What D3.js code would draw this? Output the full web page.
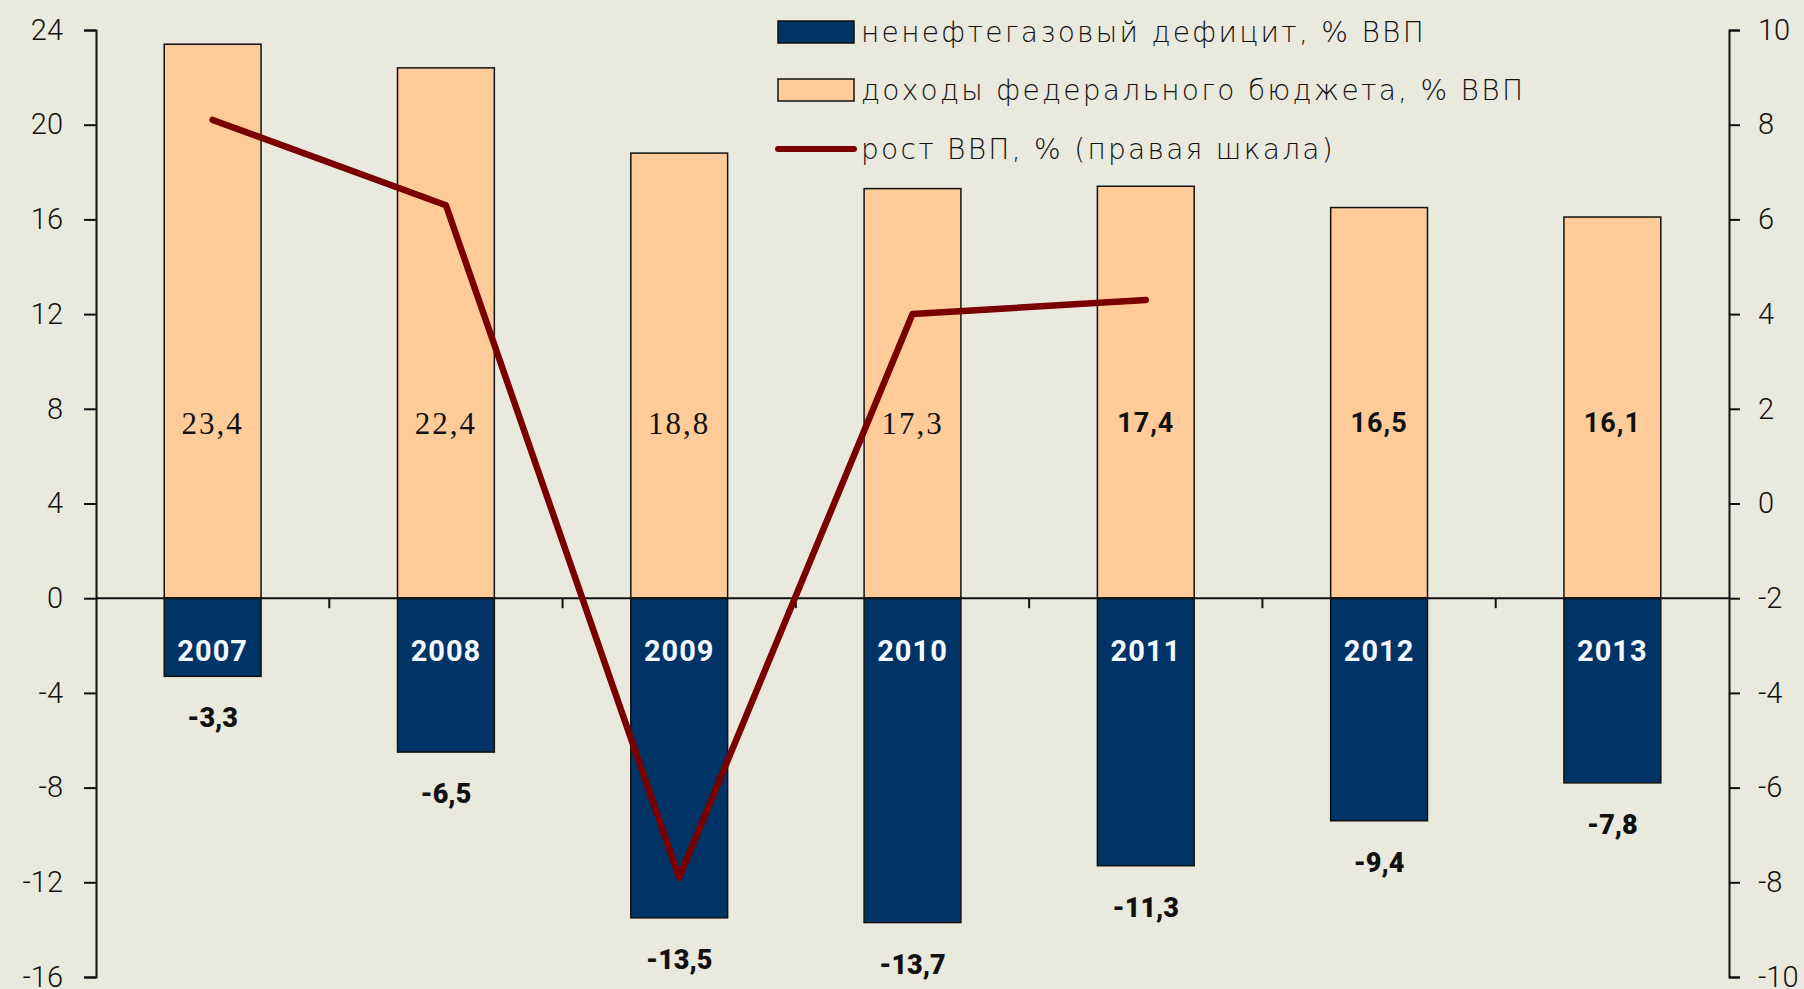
<!DOCTYPE html>
<html>
<head>
<meta charset="utf-8">
<script src="https://cdn.jsdelivr.net/npm/d3@7"></script>
<style>
  html, body { margin: 0; padding: 0; background: #e9e9de; }
  svg { display: block; }
</style>
</head>
<body>
<div id="app"></div>
<script>
// data
var years = ['2007', '2008', '2009', '2010', '2011', '2012', '2013'];
var revenue = [23.4, 22.4, 18.8, 17.3, 17.4, 16.5, 16.1];   // доходы федерального бюджета, % ВВП
var deficit = [-3.3, -6.5, -13.5, -13.7, -11.3, -9.4, -7.8]; // ненефтегазовый дефицит, % ВВП
var gdp = [8.1, 6.3, -7.9, 4.0, 4.3, null, null];           // рост ВВП, % (правая шкала)
var leftTicks = [-16, -12, -8, -4, 0, 4, 8, 12, 16, 20, 24];
var rightTicks = [-10, -8, -6, -4, -2, 0, 2, 4, 6, 8, 10];
var legendLabels = [
  'ненефтегазовый дефицит, % ВВП',
  'доходы федерального бюджета, % ВВП',
  'рост ВВП, % (правая шкала)'
];

var width = 1804, height = 989;
var colRev = '#ffcc99', colDef = '#003366', colLine = '#7a0000';
var fmt = function (v) { return d3.format('.1f')(v).replace('.', ',').replace('−', '-'); };

function go() {
    var left = 96, right = 1729, top = 30, bottom = 977;

    var svg = d3.select('#app').append('svg').attr('width', width).attr('height', height)
        .style('background', '#e9e9de');

    var x = d3.scaleBand().domain(years).range([left, right]).paddingInner(0.585).paddingOuter(0.2925);
    var yL = d3.scaleLinear().domain([-16, 24]).range([bottom, top]);
    var yR = d3.scaleLinear().domain([-10, 10]).range([bottom, top]);
    var bw = x.bandwidth(), step = x.step();

    // bars
    svg.append('g').selectAll('rect').data(revenue).enter().append('rect')
        .attr('x', function (d, i) { return x(years[i]); })
        .attr('y', function (d) { return yL(d); })
        .attr('width', bw)
        .attr('height', function (d) { return yL(0) - yL(d); })
        .attr('fill', colRev).attr('stroke', '#111').attr('stroke-width', 1.5);

    svg.append('g').selectAll('rect').data(deficit).enter().append('rect')
        .attr('x', function (d, i) { return x(years[i]); })
        .attr('y', yL(0))
        .attr('width', bw)
        .attr('height', function (d) { return yL(d) - yL(0); })
        .attr('fill', colDef).attr('stroke', '#111').attr('stroke-width', 1.5);

    // zero line and category ticks
    svg.append('line').attr('x1', left).attr('x2', right).attr('y1', yL(0)).attr('y2', yL(0))
        .attr('stroke', '#111').attr('stroke-width', 2);
    svg.append('g').selectAll('line').data(years.slice(0, -1)).enter().append('line')
        .attr('x1', function (d) { return x(d) + bw / 2 + step / 2; })
        .attr('x2', function (d) { return x(d) + bw / 2 + step / 2; })
        .attr('y1', yL(0)).attr('y2', yL(0) + 10)
        .attr('stroke', '#111').attr('stroke-width', 2);

    // axes
    var axL = svg.append('g').attr('transform', 'translate(' + left + ',0)')
        .call(d3.axisLeft(yL).tickValues(leftTicks).tickSize(12).tickPadding(21).tickFormat(d3.format('d')));
    var axR = svg.append('g').attr('transform', 'translate(' + right + ',0)')
        .call(d3.axisRight(yR).tickValues(rightTicks).tickSize(11).tickPadding(18).tickFormat(d3.format('d')));
    [axL, axR].forEach(function (ax) {
        ax.selectAll('path, line').attr('stroke', '#111').attr('stroke-width', 2);
        ax.selectAll('text').attr('font-family', 'Roboto, sans-serif').attr('font-weight', 300)
            .attr('font-size', 29).attr('fill', '#111')
            .text(function (d) { return String(d).replace('−', '-'); });
    });

    // year labels inside dark bars
    svg.append('g').selectAll('text').data(years).enter().append('text')
        .attr('x', function (d) { return x(d) + bw / 2; })
        .attr('y', yL(0) + 53)
        .attr('dominant-baseline', 'central').attr('text-anchor', 'middle')
        .attr('font-family', 'Roboto, sans-serif').attr('font-weight', 700).attr('font-size', 29)
        .attr('letter-spacing', 1)
        .attr('fill', '#f4f8ff').text(function (d) { return d; });

    // revenue value labels
    svg.append('g').selectAll('text').data(revenue).enter().append('text')
        .attr('x', function (d, i) { return x(years[i]) + bw / 2; })
        .attr('y', yL(7.4))
        .attr('dominant-baseline', 'central').attr('text-anchor', 'middle')
        .attr('font-family', function (d, i) { return i < 4 ? '"Liberation Serif", serif' : 'Roboto, sans-serif'; })
        .attr('font-weight', function (d, i) { return i < 4 ? 400 : 700; })
        .attr('font-size', function (d, i) { return i < 4 ? 31 : 27; })
        .attr('letter-spacing', function (d, i) { return i < 4 ? 2 : 1; })
        .attr('fill', '#111').text(fmt);

    // deficit value labels
    svg.append('g').selectAll('text').data(deficit).enter().append('text')
        .attr('x', function (d, i) { return x(years[i]) + bw / 2; })
        .attr('y', function (d) { return yL(d) + 42; })
        .attr('dominant-baseline', 'central').attr('text-anchor', 'middle')
        .attr('font-family', 'Roboto, sans-serif').attr('font-weight', 900).attr('font-size', 27)
        .attr('fill', '#111').text(fmt);

    // GDP line
    var line = d3.line()
        .defined(function (d) { return d != null; })
        .x(function (d, i) { return x(years[i]) + bw / 2; })
        .y(function (d) { return yR(d); });
    svg.append('path').datum(gdp).attr('d', line)
        .attr('fill', 'none').attr('stroke', colLine).attr('stroke-width', 6.5)
        .attr('stroke-linejoin', 'round').attr('stroke-linecap', 'round');

    // legend
    var lg = svg.append('g').attr('transform', 'translate(778,0)');
    var rowY = [32, 90, 149];
    lg.append('rect').attr('x', 0).attr('y', rowY[0] - 11).attr('width', 76).attr('height', 22)
        .attr('fill', colDef).attr('stroke', '#111').attr('stroke-width', 1.5);
    lg.append('rect').attr('x', 0).attr('y', rowY[1] - 11).attr('width', 76).attr('height', 22)
        .attr('fill', colRev).attr('stroke', '#111').attr('stroke-width', 1.5);
    lg.append('line').attr('x1', 0).attr('x2', 76).attr('y1', rowY[2]).attr('y2', rowY[2])
        .attr('stroke', colLine).attr('stroke-width', 6).attr('stroke-linecap', 'round');
    lg.selectAll('text').data(legendLabels).enter().append('text')
        .attr('x', 83).attr('y', function (d, i) { return rowY[i]; })
        .attr('dominant-baseline', 'central')
        .attr('font-family', '"DejaVu Sans", sans-serif').attr('font-weight', 300).attr('font-size', 28)
        .attr('letter-spacing', 2.3)
        .attr('fill', '#111').text(function (d) { return d; });
}

document.addEventListener('DOMContentLoaded', function () {
    go();
});
</script>
</body>
</html>
